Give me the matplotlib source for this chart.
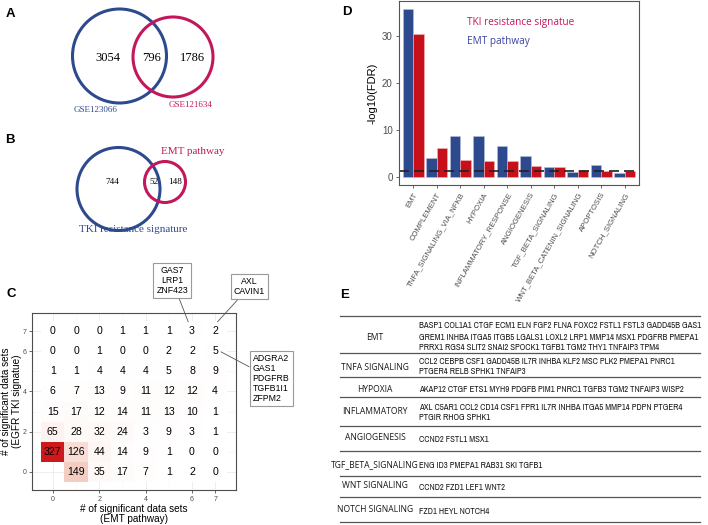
import matplotlib
matplotlib.use("Agg")
import matplotlib.pyplot as plt
import numpy as np
from matplotlib.colors import LinearSegmentedColormap
from matplotlib.patches import Circle
from matplotlib import font_manager as fm
from matplotlib.font_manager import FontProperties

# ---------------- DATA ----------------
venn_a_counts = [3054, 796, 1786]
venn_a_labels = ["GSE123066", "GSE121634"]
venn_b_counts = [744, 52, 148]
venn_b_labels = ["TKI resistance signature", "EMT pathway"]

# heatmap: rows = EGFR TKI signature count (0..7), cols = EMT pathway count (0..7)
heat_rows = [
    [np.nan, 149, 35, 17, 7, 1, 2, 0],   # y = 0
    [327, 126, 44, 14, 9, 1, 0, 0],      # y = 1
    [65, 28, 32, 24, 3, 9, 3, 1],        # y = 2
    [15, 17, 12, 14, 11, 13, 10, 1],     # y = 3
    [6, 7, 13, 9, 11, 12, 12, 4],        # y = 4
    [1, 1, 4, 4, 4, 5, 8, 9],            # y = 5
    [0, 0, 1, 0, 0, 2, 2, 5],            # y = 6
    [0, 0, 0, 1, 1, 1, 3, 2],            # y = 7
]
heat_ticks = [0, 2, 4, 6, 7]
annot_genes = {
    (6, 7): "GAS7\nLRP1\nZNF423",
    (7, 7): "AXL\nCAVIN1",
    (7, 6): "ADGRA2\nGAS1\nPDGFRB\nTGFB1I1\nZFPM2",
}

pathways = ["EMT", "COMPLEMENT", "TNFA_SIGNALING_VIA_NFKB", "HYPOXIA",
            "INFLAMMATORY_RESPONSE", "ANGIOGENESIS", "TGF_BETA_SIGNALING",
            "WNT_BETA_CATENIN_SIGNALING", "APOPTOSIS", "NOTCH_SIGNALING"]
emt_fdr = [35.8, 4.1, 8.7, 8.8, 6.7, 4.4, 2.1, 1.0, 2.6, 0.8]
tki_fdr = [30.4, 6.1, 3.7, 3.5, 3.4, 2.3, 2.2, 1.4, 1.3, 1.3]
fdr_cut = 1.3

table_names = ["EMT", "TNFA SIGNALING", "HYPOXIA", "INFLAMMATORY", "ANGIOGENESIS",
               "TGF_BETA_SIGNALING", "WNT SIGNALING", "NOTCH SIGNALING"]
table_genes = [
    ["BASP1 COL1A1 CTGF ECM1 ELN FGF2 FLNA FOXC2 FSTL1 FSTL3 GADD45B GAS1",
     "GREM1 INHBA ITGA5 ITGB5 LGALS1 LOXL2 LRP1 MMP14 MSX1 PDGFRB PMEPA1",
     "PRRX1 RGS4 SLIT2 SNAI2 SPOCK1 TGFB1 TGM2 THY1 TNFAIP3 TPM4"],
    ["CCL2 CEBPB CSF1 GADD45B IL7R INHBA KLF2 MSC PLK2 PMEPA1 PNRC1",
     "PTGER4 RELB SPHK1 TNFAIP3"],
    ["AKAP12 CTGF ETS1 MYH9 PDGFB PIM1 PNRC1 TGFB3 TGM2 TNFAIP3 WISP2"],
    ["AXL C5AR1 CCL2 CD14 CSF1 FPR1 IL7R INHBA ITGA5 MMP14 PDPN PTGER4",
     "PTGIR RHOG SPHK1"],
    ["CCND2 FSTL1 MSX1"],
    ["ENG ID3 PMEPA1 RAB31 SKI TGFB1"],
    ["CCND2 FZD1 LEF1 WNT2"],
    ["FZD1 HEYL NOTCH4"],
]

# ---------------- STYLE ----------------
BLUE = "#2E4A8E"
CRIM = "#C2185B"
RED = "#C8101A"
W, H = 708, 525
fig = plt.figure(figsize=(W / 100, H / 100), dpi=100)
plt.rcParams['font.family'] = ['Liberation Sans', 'DejaVu Sans']

# pick a narrow font for the gene lists if one is installed
def pick_narrow():
    fl = fm.fontManager.ttflist
    prefs = [lambda f: "narrow" in f.name.lower() and f.weight in (400, "normal") and f.style == "normal",
             lambda f: "narrow" in f.fname.lower() and "bold" not in f.fname.lower() and "italic" not in f.fname.lower(),
             lambda f: "condensed" in f.fname.lower() and "open" in f.fname.lower() and "bold" not in f.fname.lower() and "italic" not in f.fname.lower() and "light" not in f.fname.lower(),
             lambda f: "condensed" in f.fname.lower() and "roboto" in f.fname.lower() and "regular" in f.fname.lower(),
             lambda f: f.fname.lower().endswith("dejavusanscondensed.ttf")]
    for p in prefs:
        for f in fl:
            try:
                if p(f):
                    return FontProperties(fname=f.fname)
            except Exception:
                pass
    return FontProperties(family="Open Sans")

narrow_fp = pick_narrow()
canvas_r = fig.canvas.get_renderer()

def fit_size(txt, target_px, fp):
    t = fig.text(0, 0, txt, fontproperties=fp, fontsize=10)
    w = t.get_window_extent(renderer=canvas_r).width
    t.remove()
    return 10 * target_px / w

gene_fs = fit_size(table_genes[0][0], 283, narrow_fp)
label_fp = FontProperties(family=['Open Sans', 'DejaVu Sans'])
label_fs = fit_size("INFLAMMATORY", 65, label_fp)

def add_ax(l, t, r, b):
    return fig.add_axes([l / W, 1 - b / H, (r - l) / W, (b - t) / H])

ov = fig.add_axes([0, 0, 1, 1], zorder=-5)
ov.set_xlim(0, W); ov.set_ylim(H, 0); ov.axis("off")
top = fig.add_axes([0, 0, 1, 1], zorder=10)
top.set_xlim(0, W); top.set_ylim(H, 0); top.axis("off")
top.patch.set_alpha(0)

# panel letters
for lab, (x, y) in {"A": (10.5, 14), "B": (10, 140), "C": (11, 294),
                    "D": (347, 12), "E": (345, 295)}.items():
    top.text(x, y, lab, fontsize=9.5, fontweight="bold", ha="center", va="center")

# ---------------- A & B: Venn ----------------
serif = ['Liberation Serif', 'DejaVu Serif']
ov.add_patch(Circle((119.5, 56), 47, fill=False, ec=BLUE, lw=2.2))
ov.add_patch(Circle((173, 57), 40, fill=False, ec=CRIM, lw=2.2))
for x, v in zip([108, 152, 192], venn_a_counts):
    ov.text(x, 58, str(v), family=serif, fontsize=9, ha="center", va="center")
ov.text(96, 110, venn_a_labels[0], family=serif, fontsize=6.5, color=BLUE, ha="center", va="center")
ov.text(191, 105, venn_a_labels[1], family=serif, fontsize=6.5, color=CRIM, ha="center", va="center")

ov.add_patch(Circle((118.5, 189), 41.5, fill=False, ec=BLUE, lw=2.2))
ov.add_patch(Circle((165, 182), 20.5, fill=False, ec=CRIM, lw=2.2))
for x, v in zip([112, 154, 175], venn_b_counts):
    ov.text(x, 182, str(v), family=serif, fontsize=6.6, ha="center", va="center")
ov.text(133, 229, venn_b_labels[0], family=serif, fontsize=8, color=BLUE, ha="center", va="center")
ov.text(193, 152, venn_b_labels[1], family=serif, fontsize=8, color=CRIM, ha="center", va="center")

# ---------------- C: heatmap ----------------
axc = add_ax(32, 313, 236, 490)
Z = np.array(heat_rows, dtype=float)
cmap = LinearSegmentedColormap.from_list("wr", ["#FFFFFF", "#FBE9E4", "#E49A86", "#CB1A1D"],
                                         N=256)
edges = np.arange(-0.5, 8.5, 1)
axc.set_axisbelow(True)
axc.grid(True, color="#EBEBEB", lw=0.6)
axc.set_xticks(np.arange(0, 8, 1), minor=True)
axc.set_yticks(np.arange(0, 8, 1), minor=True)
axc.grid(True, which="minor", color="#F3F3F3", lw=0.4)
axc.pcolormesh(edges, edges, np.ma.masked_invalid(Z), cmap=cmap, vmin=0, vmax=327, zorder=2)
for i in range(8):
    for j in range(8):
        if not np.isnan(Z[i, j]):
            axc.text(j, i, str(int(Z[i, j])), ha="center", va="center", fontsize=7.6, zorder=3)
axc.set_xlim(-0.9, 7.9); axc.set_ylim(-0.9, 7.9)
axc.set_xticks(heat_ticks); axc.set_yticks(heat_ticks)
axc.tick_params(which="major", labelsize=5, colors="#4D4D4D", length=2.5, width=0.6, pad=1.5)
axc.tick_params(which="minor", length=0)
for s in axc.spines.values():
    s.set_color("#4D4D4D"); s.set_linewidth(0.8)
axc.set_xlabel("# of significant data sets\n(EMT pathway)", fontsize=7.2, labelpad=1, linespacing=1.05)
axc.set_ylabel("# of significant data sets\n(EGFR TKI signatue)", fontsize=7.2, labelpad=0.5, linespacing=1.05)

box = dict(boxstyle="square,pad=0.35", fc="white", ec="#9A9A9A", lw=0.8)
arr = dict(arrowstyle="-", color="#555555", lw=0.6, shrinkA=0, shrinkB=0)
annot_pos = {(6, 7): ((5.15, 9.5), (5.84, 7.46), "center"),
             (7, 7): ((8.48, 9.2), (7.1, 7.46), "center"),
             (7, 6): ((8.62, 4.65), (7.25, 5.97), "left")}
for key, txt in annot_genes.items():
    (tx, ty), (px, py), ha = annot_pos[key]
    axc.annotate(txt, xy=(px, py), xytext=(tx, ty), fontsize=6.3, ha=ha, va="center",
                 bbox=box, arrowprops=arr, annotation_clip=False, linespacing=1.15, zorder=5)

# ---------------- D: bar chart ----------------
axd = add_ax(399, 1, 639, 185)
x = np.arange(len(pathways))
bw = 0.45
axd.bar(x - bw / 2, emt_fdr, bw, color=BLUE, edgecolor="#B8C0DA", lw=0.4)
axd.bar(x + bw / 2, tki_fdr, bw, color=RED, edgecolor="#F0B8B8", lw=0.4)
axd.axhline(fdr_cut, color="#222222", ls=(0, (6, 3)), lw=1.2)
axd.set_xlim(-0.6, 9.6); axd.set_ylim(-1.7, 37.5)
axd.set_yticks([0, 10, 20, 30])
axd.set_xticks(x)
axd.set_xticklabels(pathways, rotation=60, ha="right", rotation_mode="anchor", fontsize=5.6,
                    color="#555555")
axd.tick_params(axis="y", labelsize=7, colors="#4D4D4D", length=2.5, width=0.6, pad=2)
axd.tick_params(axis="x", colors="#4D4D4D", length=2.5, width=0.6, pad=2)
for s in axd.spines.values():
    s.set_color("#555555"); s.set_linewidth(0.8)
axd.set_ylabel("-log10(FDR)", fontsize=8, labelpad=3)
axd.text(0.285, 0.885, "TKI resistance signatue", transform=axd.transAxes, color=CRIM,
         fontsize=7.2, family=['Open Sans', 'DejaVu Sans'], va="center")
axd.text(0.285, 0.782, "EMT pathway", transform=axd.transAxes, color="#3A46A0",
         fontsize=7.2, family=['Open Sans', 'DejaVu Sans'], va="center")

# ---------------- E: table ----------------
line_y = [316, 353, 377, 397, 426, 451, 476, 497, 522]
label_y = [337, 367, 389, 412, 438, 465, 486, 510]
gene_y = [[326, 337, 347], [361, 372], [389], [407, 418], [439], [466], [487], [511]]
for ly in line_y:
    ov.plot([340, 700], [ly, ly], color="#555555", lw=0.9)
for name, gy, ys, genes in zip(table_names, label_y, gene_y, table_genes):
    ov.text(375, gy, name, fontproperties=label_fp, fontsize=label_fs, ha="center", va="center",
            color="#1A1A1A")
    for yy, g in zip(ys, genes):
        ov.text(419, yy, g, fontproperties=narrow_fp, fontsize=gene_fs, ha="left", va="center",
                color="#1A1A1A")

fig.savefig("out.png", dpi=100)
